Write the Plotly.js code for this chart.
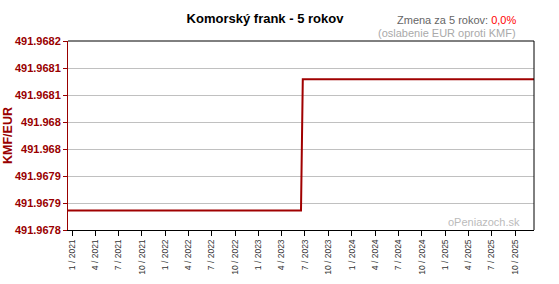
<!DOCTYPE html>
<html>
<head>
<meta charset="utf-8">
<script src="https://cdn.plot.ly/plotly-3.0.1.min.js"></script>
<style>
html,body{margin:0;padding:0;background:#fff;}
#chart{width:559px;height:284px;}
</style>
</head>
<body>
<div id="chart"></div>
<script>
// ---- data ----
const dates = ['2020-12-16', '2023-06-16', '2023-06-23', '2025-12-14'];
const rates = [491.967856, 491.967856, 491.968099, 491.968099];

const xTickVals = ['2021-01-01','2021-04-01','2021-07-01','2021-10-01',
                   '2022-01-01','2022-04-01','2022-07-01','2022-10-01',
                   '2023-01-01','2023-04-01','2023-07-01','2023-10-01',
                   '2024-01-01','2024-04-01','2024-07-01','2024-10-01',
                   '2025-01-01','2025-04-01','2025-07-01','2025-10-01'];
const xTickLabels = ['1 / 2021','4 / 2021','7 / 2021','10 / 2021',
                     '1 / 2022','4 / 2022','7 / 2022','10 / 2022',
                     '1 / 2023','4 / 2023','7 / 2023','10 / 2023',
                     '1 / 2024','4 / 2024','7 / 2024','10 / 2024',
                     '1 / 2025','4 / 2025','7 / 2025','10 / 2025'];
const yTickVals = [491.96782, 491.96787, 491.96792, 491.96797, 491.96802, 491.96807, 491.96812, 491.96817];
const yTickLabels = ['491.9678','491.9679','491.9679','491.968','491.968','491.9681','491.9681','491.9682'];
const xRange = ['2020-12-16', '2025-12-14'];
const yRange = [491.96782, 491.96817];

const titleText = 'Komorský frank - 5 rokov';
const changeLabel = 'Zmena za 5 rokov: ';
const changeValue = '0,0%';
const subNote = '(oslabenie EUR oproti KMF)';
const yTitle = 'KMF/EUR';
const watermark = 'oPeniazoch.sk';

const FONT = '"Liberation Sans", Arial, sans-serif';
const RED = '#990000';

const trace = {
  x: dates, y: rates, type: 'scatter', mode: 'lines',
  line: {color: '#a00000', width: 2},
  hoverinfo: 'skip'
};

const layout = {
  width: 559, height: 284,
  margin: {l: 68, r: 25, t: 41, b: 54, pad: 0},
  paper_bgcolor: '#fff', plot_bgcolor: '#fff',
  font: {family: FONT, size: 11, color: '#333'},
  showlegend: false,
  title: {
    text: '<b>' + titleText + '</b>',
    font: {family: FONT, size: 13, color: '#000'},
    x: 265/559, xanchor: 'center', xref: 'container',
    y: 1 - 18/284, yanchor: 'middle', yref: 'container'
  },
  xaxis: {
    type: 'date', range: xRange,
    tickmode: 'array', tickvals: xTickVals, ticktext: xTickLabels,
    tickangle: -90, tickfont: {family: FONT, size: 8.5, color: '#333'},
    ticks: 'outside', ticklen: 5, tickcolor: '#000', tickwidth: 1,
    showline: true, linecolor: '#000', linewidth: 1,
    showgrid: false, zeroline: false, fixedrange: true
  },
  yaxis: {
    range: yRange,
    tickmode: 'array', tickvals: yTickVals, ticktext: yTickLabels,
    tickfont: {family: FONT, size: 11, color: RED, weight: 'bold'},
    ticks: 'outside', ticklen: 4, tickcolor: RED, tickwidth: 1,
    showline: true, linecolor: RED, linewidth: 1,
    showgrid: true, gridcolor: '#c0c0c0', gridwidth: 1,
    zeroline: false, fixedrange: true
  },
  shapes: [
    {type: 'line', xref: 'paper', yref: 'paper', x0: 0, x1: 1, y0: 1, y1: 1, line: {color: '#000', width: 1}},
    {type: 'line', xref: 'paper', yref: 'paper', x0: 1, x1: 1, y0: 0, y1: 1, line: {color: '#000', width: 1}}
  ],
  annotations: [
    {text: changeLabel + '<span style="color:#ff0000">' + changeValue + '</span>',
     xref: 'paper', yref: 'paper', x: (518-68)/466, y: (230-20)/189,
     xanchor: 'right', yanchor: 'middle', showarrow: false,
     font: {family: FONT, size: 11, color: '#666'}},
    {text: subNote,
     xref: 'paper', yref: 'paper', x: (518-68)/466, y: (230-33.5)/189,
     xanchor: 'right', yanchor: 'middle', showarrow: false,
     font: {family: FONT, size: 11, color: '#aaa'}},
    {text: '<b>' + yTitle + '</b>', textangle: -90,
     xref: 'paper', yref: 'paper', x: (8-68)/466, y: (230-136)/189,
     xanchor: 'center', yanchor: 'middle', showarrow: false,
     font: {family: FONT, size: 12.5, color: RED}},
    {text: watermark,
     xref: 'paper', yref: 'paper', x: (522-68)/466, y: (230-222)/189,
     xanchor: 'right', yanchor: 'middle', showarrow: false,
     font: {family: FONT, size: 11, color: '#bbb'}}
  ]
};

Plotly.newPlot('chart', [trace], layout, {staticPlot: true, displayModeBar: false});
</script>
</body>
</html>
